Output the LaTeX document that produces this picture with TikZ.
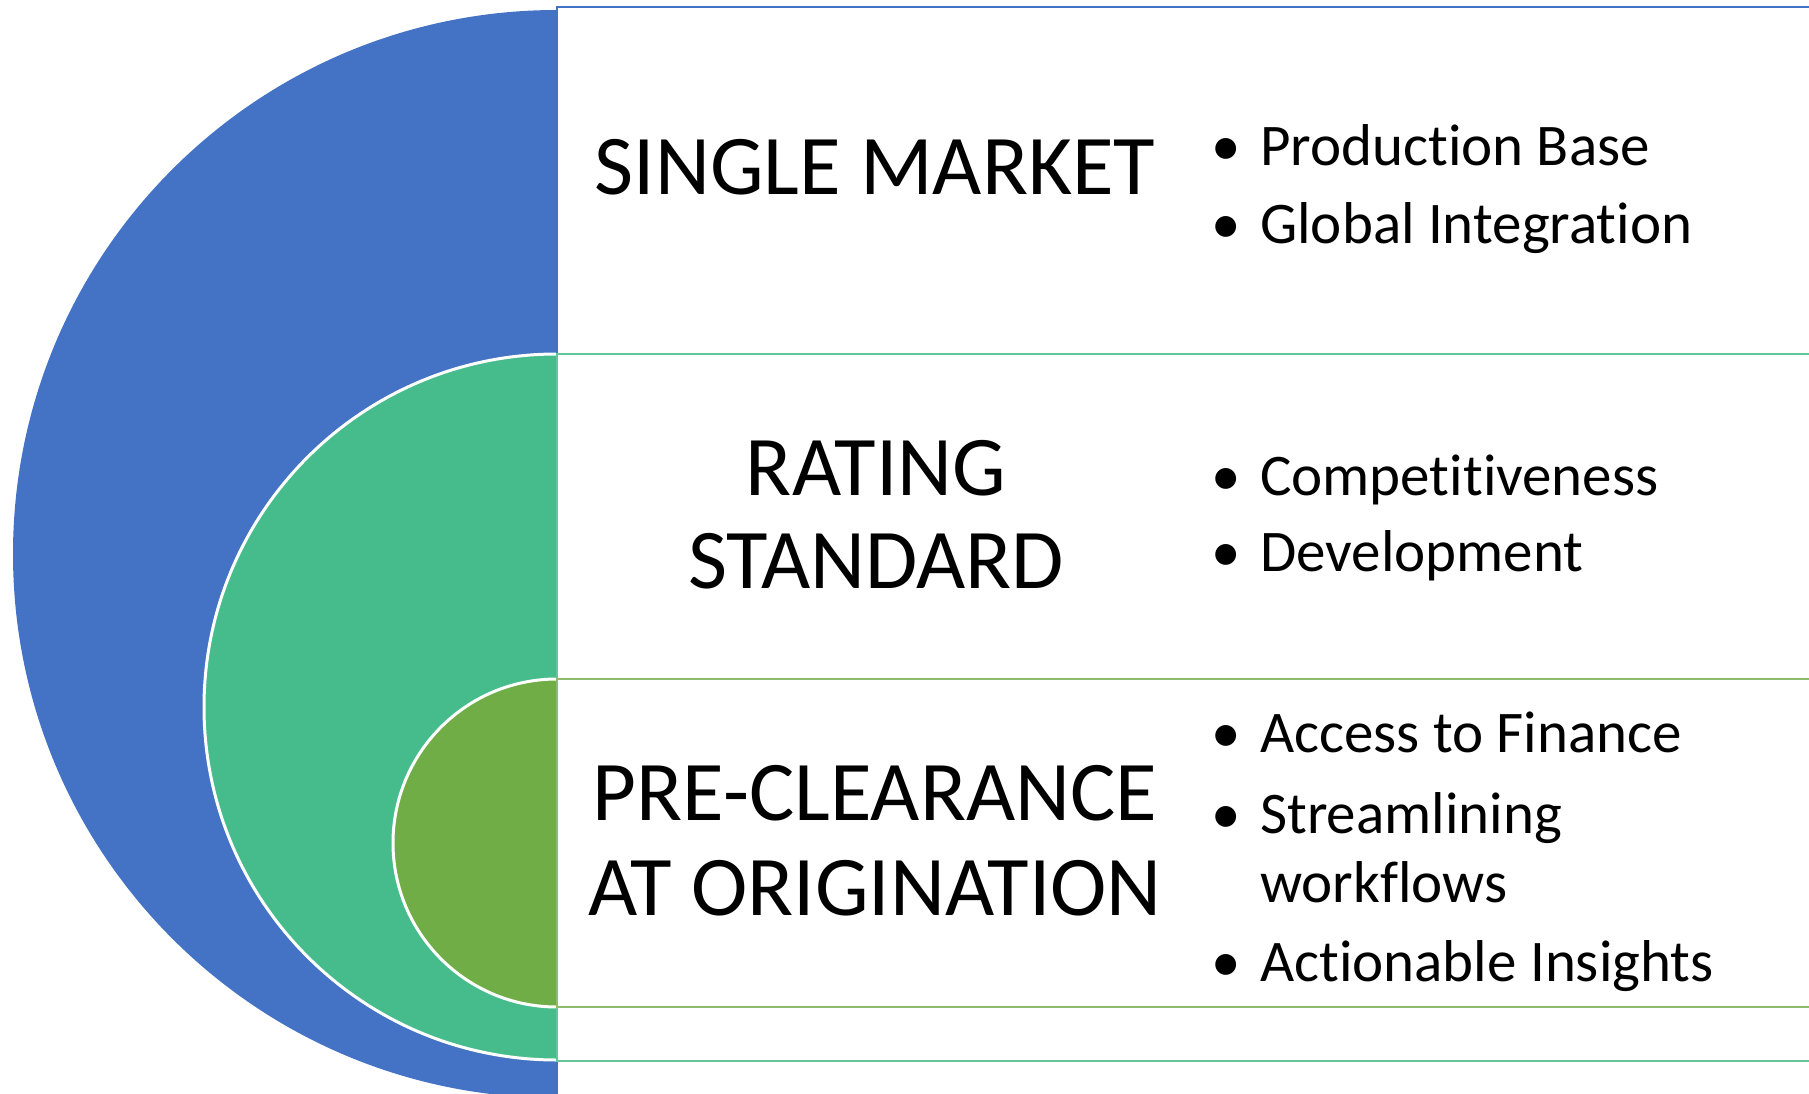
\documentclass[tikz,border=0pt]{standalone}
\usepackage{fontspec}
\setmainfont{Carlito}[Ligatures=NoCommon]
\definecolor{sblue}{RGB}{68,114,196}
\definecolor{steal}{RGB}{70,188,140}
\definecolor{solive}{RGB}{112,173,71}
\begin{document}
\begin{tikzpicture}[x=1pt,y=-1pt,
  title/.style={font=\fontsize{85}{93}\selectfont, anchor=base, inner sep=0pt},
  item/.style={font=\fontsize{59}{69}\selectfont, anchor=base west, inner sep=0pt},
  dot/.style={font=\fontsize{59}{69}\selectfont, anchor=base, inner sep=0pt},
  rim/.style={draw=white, line width=3pt},
  band/.style={fill=white, line width=2.5pt}]
\useasboundingbox (0,0) rectangle (1809,1094);
\clip (0,0) rectangle (1809,1094);
\fill[white] (0,0) rectangle (1809,1094);
% half discs
\begin{scope}
  \clip (0,0) rectangle (557,1094);
  \fill[sblue] (557,554) circle[radius=544pt];
  \fill[steal, rim] (557,707) circle[radius=353pt];
  \fill[solive, rim] (557,843) circle[radius=164pt];
\end{scope}
% bands
\draw[band, draw=sblue] (557,7) rectangle (1900,1130);
\draw[band, draw=steal!85!white] (557,354) rectangle (1900,1061);
\draw[band, draw=solive!80!white] (557,679) rectangle (1900,1007);
% titles
\node[title] (t1) at (875,195) {SINGLE MARKET};
\node[title] (t2a) at (876,495) {RATING};
\node[title] (t2b) at (876,588) {STANDARD};
\node[title] (t3a) at (875,820) {PRE-CLEARANCE};
\node[title] (t3b) at (875,915) {AT ORIGINATION};
% bullets, band 1
\node[dot] (d11) at (1226,166) {•};
\node[item] (i11) at (1260,166) {Production Base};
\node[dot] (d12) at (1226,243) {•};
\node[item] (i12) at (1260,243) {Global Integration};
% band 2
\node[dot] (d21) at (1226,495) {•};
\node[item] (i21) at (1260,495) {Competitiveness};
\node[dot] (d22) at (1226,571) {•};
\node[item] (i22) at (1260,571) {Development};
% band 3
\node[dot] (d31) at (1226,752) {•};
\node[item] (i31) at (1260,752) {Access to Finance};
\node[dot] (d32) at (1226,833) {•};
\node[item] (i32) at (1260,833) {Streamlining};
\node[item] (i32b) at (1260,902) {workflows};
\node[dot] (d33) at (1226,981) {•};
\node[item] (i33) at (1260,981) {Actionable Insights};
\end{tikzpicture}
\end{document}
